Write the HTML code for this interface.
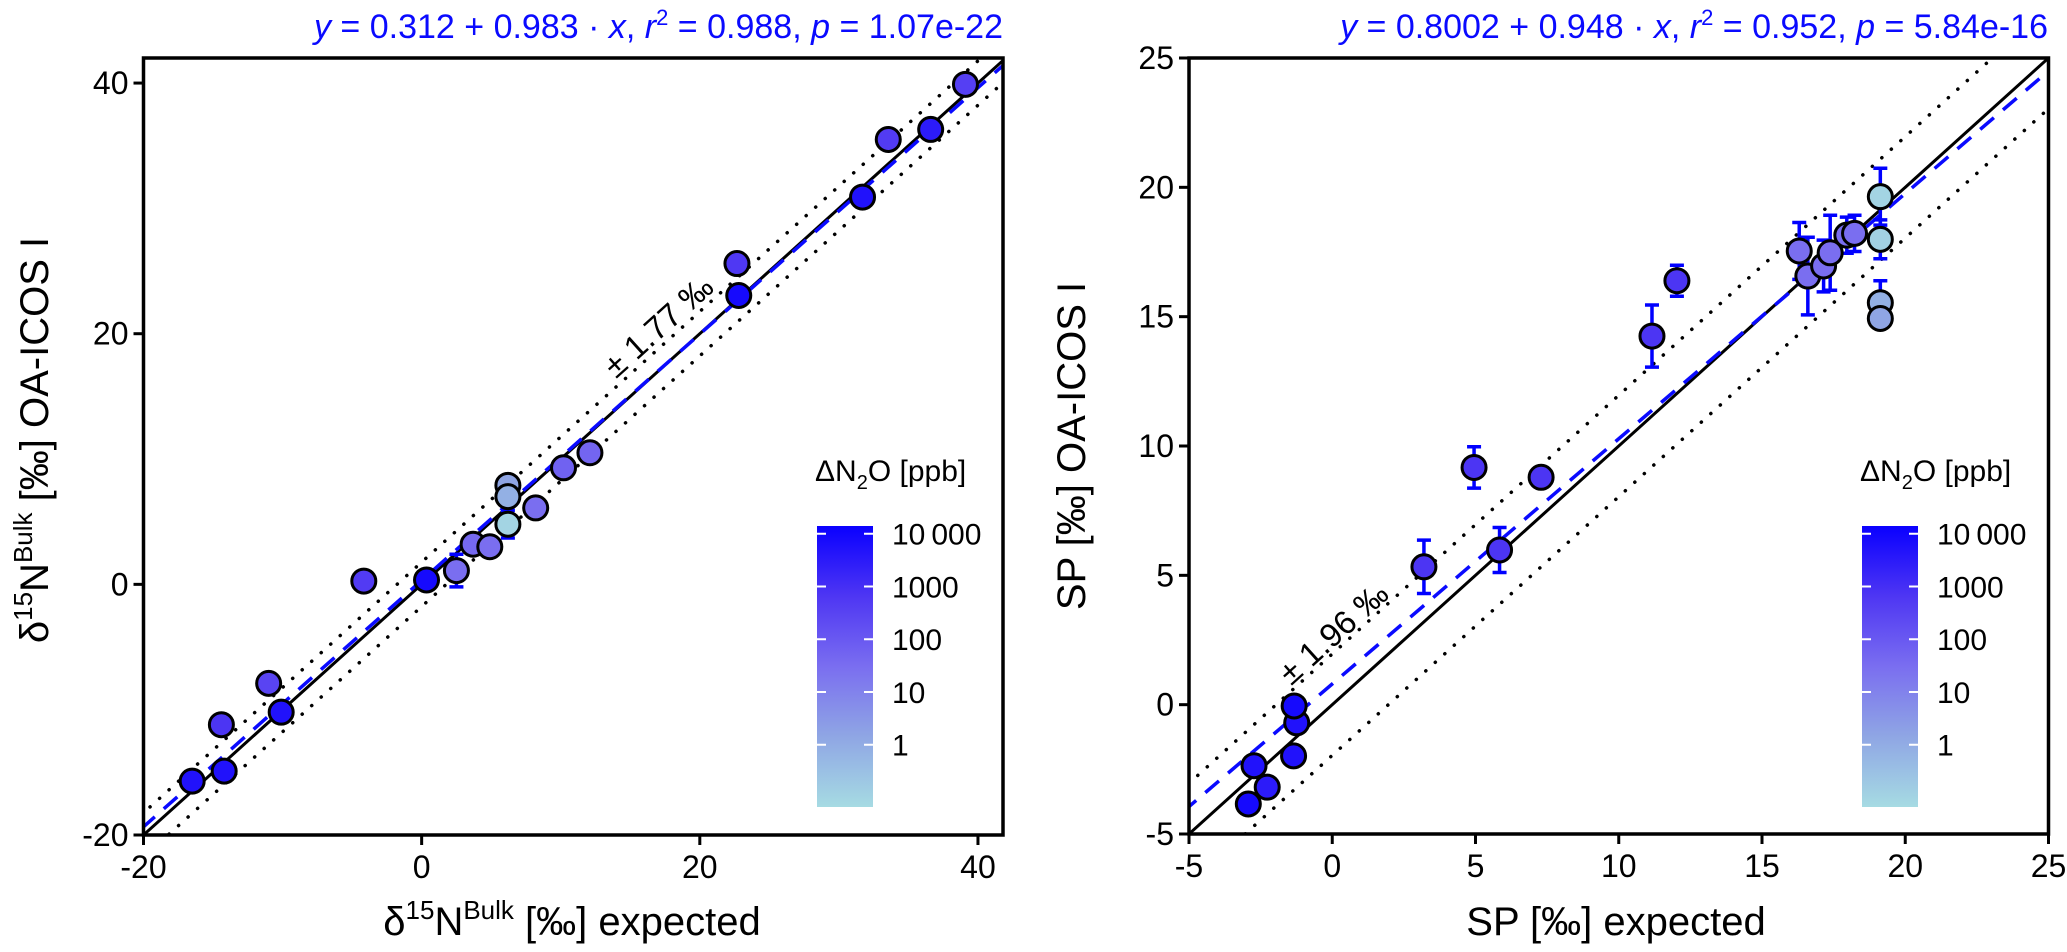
<!DOCTYPE html>
<html><head><meta charset="utf-8"><style>
html,body{margin:0;padding:0;background:#fff;width:2067px;height:952px;overflow:hidden;}
svg{display:block;font-family:"Liberation Sans",Arial,sans-serif;}
</style></head><body>
<svg id="chart" width="2067" height="952" viewBox="0 0 2067 952" xmlns="http://www.w3.org/2000/svg" style="overflow:hidden">
<defs>
<linearGradient id="cbg" x1="0" y1="1" x2="0" y2="0">
<stop offset="0" stop-color="#a6dbe3"/><stop offset="0.25" stop-color="#8fa6e4"/><stop offset="0.5" stop-color="#7a6ef0"/><stop offset="0.75" stop-color="#4e36f3"/><stop offset="1" stop-color="#0a00ff"/>
</linearGradient>
<clipPath id="clipL"><rect x="143.5" y="58" width="859.5" height="777"/></clipPath>
<clipPath id="clipR"><rect x="1189" y="58" width="859.5" height="776"/></clipPath>
</defs>
<g id="left"></g>
<g id="right"></g>
</svg>
<script>
// ---- Left panel data (δ15N bulk) ----
const bulkExpected = [-16.5,-14.2,-14.4,-10.1,-11.0,-4.16,0.35,2.5,3.7,4.9,6.2,6.2,6.2,8.2,10.2,12.1,22.67,22.8,31.7,33.55,36.6,39.1];
const bulkMeasured = [-15.7,-14.9,-11.2,-10.2,-7.9,0.26,0.35,1.1,3.2,3.0,7.9,7.0,4.8,6.1,9.3,10.5,25.6,23.05,30.9,35.5,36.3,39.9];
const bulkErr      = [0,0,0,0,0,0,0,1.3,0,0,0,0,1.1,0,0,0,0,0,0,0,0,0];
const bulkDN2O     = [5000,5000,700,5000,300,500,8000,30,40,30,1.5,0.8,0.1,30,60,50,600,8000,5000,500,3000,400];
const bulkFit = [0.312, 0.983];
const bulkBand = 1.77;
const bulkXTicks = [-20,0,20,40];
const bulkYTicks = [-20,0,20,40];
// ---- Right panel data (SP) ----
const spExpected = [-2.93,-2.27,-2.73,-1.35,-1.24,-1.33,3.2,4.95,5.84,7.29,11.16,12.03,16.3,16.6,17.15,17.38,17.96,18.23,19.13,19.13,19.13,19.13];
const spMeasured = [-3.84,-3.19,-2.36,-1.98,-0.7,-0.05,5.33,9.17,5.98,8.79,14.25,16.39,17.54,16.57,16.96,17.47,18.15,18.22,19.64,17.99,15.54,14.93];
const spErr      = [0,0,0,0,0,0,1.03,0.8,0.87,0.15,1.2,0.6,1.1,1.5,1.0,1.45,0.7,0.7,1.1,0.75,0.85,0];
const spDN2O     = [8000,3000,5000,5000,5000,8000,700,700,700,700,700,700,30,30,30,30,30,30,0.1,0.12,0.8,1.5];
const spFit = [0.8002, 0.948];
const spBand = 1.96;
const spXTicks = [-5,0,5,10,15,20,25];
const spYTicks = [-5,0,5,10,15,20,25];
// ---- colorbar ----
const cbTicks = [1,10,100,1000,10000];
const cbTickLabels = ["1","10","100","1000","10\u2009000"];

const NS="http://www.w3.org/2000/svg";
function mk(tag, attrs, parent){const e=document.createElementNS(NS,tag);for(const k in attrs)e.setAttribute(k,attrs[k]);parent.appendChild(e);return e;}

const cbMin=Math.log10(0.066), cbMax=Math.log10(14000);
const stops=[[0,[166,219,227]],[0.25,[143,166,228]],[0.5,[122,110,240]],[0.75,[78,54,243]],[1,[10,0,255]]];
function cmap(v){let t=(Math.log10(v)-cbMin)/(cbMax-cbMin);t=Math.max(0,Math.min(1,t));
 for(let i=1;i<stops.length;i++){if(t<=stops[i][0]){const a=stops[i-1],b=stops[i];const f=(t-a[0])/(b[0]-a[0]);
 const c=a[1].map((x,j)=>Math.round(x+(b[1][j]-x)*f));return `rgb(${c[0]},${c[1]},${c[2]})`;}}return "rgb(10,0,255)";}

function panel(g, cfg){
 const {x0,x1,y0,y1,xmin,xmax,ymin,ymax,clip}=cfg;
 const sx=v=>x0+(v-xmin)/(xmax-xmin)*(x1-x0);
 const sy=v=>y1-(v-ymin)/(ymax-ymin)*(y1-y0);
 const lines=mk('g',{'clip-path':`url(#${clip})`},g);
 const lo=Math.min(xmin,ymin)-5, hi=Math.max(xmax,ymax)+5;
 for(const off of [cfg.band,-cfg.band]){
  const l=mk('line',{x1:sx(lo),y1:sy(lo+off),x2:sx(hi),y2:sy(hi+off),stroke:'#000','stroke-width':3.5,'stroke-dasharray':'0.1 12.7','stroke-linecap':'round'},lines);
  
  
 }
 const one=mk('line',{x1:sx(lo),y1:sy(lo),x2:sx(hi),y2:sy(hi),stroke:'#000','stroke-width':3},lines);
 
 
 const fit=mk('line',{x1:sx(lo),y1:sy(cfg.fit[0]+cfg.fit[1]*lo),x2:sx(hi),y2:sy(cfg.fit[0]+cfg.fit[1]*hi),stroke:'#0a0aff','stroke-width':3.5,'stroke-dasharray':'18 12'},lines);
 
 
 const ang=-Math.atan(((y1-y0)/(ymax-ymin))/((x1-x0)/(xmax-xmin)))*180/Math.PI;
 const bl=mk('text',{x:cfg.bandLabel[0],y:cfg.bandLabel[1],'font-size':33,'text-anchor':'middle','dominant-baseline':'middle',transform:`rotate(${ang} ${cfg.bandLabel[0]} ${cfg.bandLabel[1]})`},g);
 bl.textContent='\u00B1 '+cfg.band.toFixed(2)+' \u2030';
 
 
 const pts=mk('g',{'clip-path':`url(#${clip})`},g);
 cfg.xs.forEach((xv,i)=>{const e=cfg.err[i];if(!e)return;const cx=sx(xv);
  const eb=mk('path',{d:`M${cx},${sy(cfg.ys[i]-e)}V${sy(cfg.ys[i]+e)}M${cx-7},${sy(cfg.ys[i]-e)}h14M${cx-7},${sy(cfg.ys[i]+e)}h14`,stroke:'#0000ff','stroke-width':3.5,fill:'none'},pts);
  
  });
 cfg.xs.forEach((xv,i)=>{
  const c=mk('circle',{cx:sx(xv),cy:sy(cfg.ys[i]),r:12,fill:cmap(cfg.dn[i]),stroke:'#000','stroke-width':3},pts);
  
  });
 const fr=mk('rect',{x:x0,y:y0,width:x1-x0,height:y1-y0,fill:'none',stroke:'#000','stroke-width':3.5},g);
 
 
 cfg.xt.forEach(t=>{const x=sx(t);
  const tk=mk('line',{x1:x,y1:y1,x2:x,y2:y1+10,stroke:'#000','stroke-width':3},g);
  
  
  const tl=mk('text',{x:x,y:y1+43,'font-size':32,'text-anchor':'middle'},g);tl.textContent=t;
  
  });
 cfg.yt.forEach(t=>{const y=sy(t);
  const tk=mk('line',{x1:x0-10,y1:y,x2:x0,y2:y,stroke:'#000','stroke-width':3},g);
  
  
  const tl=mk('text',{x:x0-15,y:y+11,'font-size':32,'text-anchor':'end'},g);tl.textContent=t;
  
  });
 const cx0=cfg.cb, cx1=cfg.cb+56, cyTop=526, cyBot=807;
 const cb=mk('rect',{x:cx0,y:cyTop,width:56,height:cyBot-cyTop,fill:'url(#cbg)'},g);
 
 
 const cyv=v=>cyBot-(Math.log10(v)-cbMin)/(cbMax-cbMin)*(cyBot-cyTop);
 cbTicks.forEach((t,i)=>{const y=cyv(t);
  mk('path',{d:`M${cx0},${y}h9M${cx1-9},${y}h9`,stroke:'#fff','stroke-width':2},g);
  const tl=mk('text',{x:cx1+19,y:y+11,'font-size':30},g);tl.textContent=cbTickLabels[i];
  
  });
 const ct=mk('text',{x:cx0-2,y:481,'font-size':30},g);
 ct.innerHTML='\u0394N<tspan font-size="20" dy="8">2</tspan><tspan dy="-8">O [ppb]</tspan>';
 
 
}

panel(document.getElementById('left'),{x0:143.5,x1:1003,y0:58,y1:835,xmin:-20,xmax:41.8,ymin:-20,ymax:42,clip:'clipL',
 xs:bulkExpected,ys:bulkMeasured,err:bulkErr,dn:bulkDN2O,fit:bulkFit,band:bulkBand,xt:bulkXTicks,yt:bulkYTicks,cb:817,bandLabel:[660,328]});
panel(document.getElementById('right'),{x0:1189,x1:2048.5,y0:58,y1:834,xmin:-5,xmax:25,ymin:-5,ymax:25,clip:'clipR',
 xs:spExpected,ys:spMeasured,err:spErr,dn:spDN2O,fit:spFit,band:spBand,xt:spXTicks,yt:spYTicks,cb:1862,bandLabel:[1335,635]});

const s=document.getElementById('chart');
function T(html,attrs){const e=document.createElementNS(NS,'text');for(const k in attrs)e.setAttribute(k,attrs[k]);e.innerHTML=html;s.appendChild(e);return e;}
let e;
e=T('<tspan font-style="italic">y</tspan> = 0.312 + 0.983 · <tspan font-style="italic">x</tspan>,   <tspan font-style="italic">r</tspan><tspan font-size="22" dy="-13">2</tspan><tspan dy="13"> = 0.988,   </tspan><tspan font-style="italic">p</tspan> = 1.07e-22',{x:1003,y:38,'font-size':34,fill:'#0a0aff','text-anchor':'end','xml:space':'preserve'});


e=T('<tspan font-style="italic">y</tspan> = 0.8002 + 0.948 · <tspan font-style="italic">x</tspan>,   <tspan font-style="italic">r</tspan><tspan font-size="22" dy="-13">2</tspan><tspan dy="13"> = 0.952,   </tspan><tspan font-style="italic">p</tspan> = 5.84e-16',{x:2048,y:38,'font-size':34,fill:'#0a0aff','text-anchor':'end','xml:space':'preserve'});


e=T('δ<tspan font-size="26" dy="-16">15</tspan><tspan dy="16">N</tspan><tspan font-size="26" dy="-16">Bulk</tspan><tspan dy="16"> [‰] expected</tspan>',{x:572,y:935,'font-size':40,'text-anchor':'middle'});


e=T('SP [‰] expected',{x:1616,y:935,'font-size':40,'text-anchor':'middle'});


e=T('δ<tspan font-size="26" dy="-16">15</tspan><tspan dy="16">N</tspan><tspan font-size="26" dy="-16">Bulk</tspan><tspan dy="16"> [‰] OA-ICOS I</tspan>',{x:0,y:0,'font-size':40,'text-anchor':'middle',transform:'translate(48,440) rotate(-90)'});


e=T('SP [‰] OA-ICOS I',{x:0,y:0,'font-size':40,'text-anchor':'middle',transform:'translate(1085,446) rotate(-90)'});


document.body.style.height='952px';
</script>
<style>body{height:952px!important;overflow:hidden!important}</style>
</body></html>
